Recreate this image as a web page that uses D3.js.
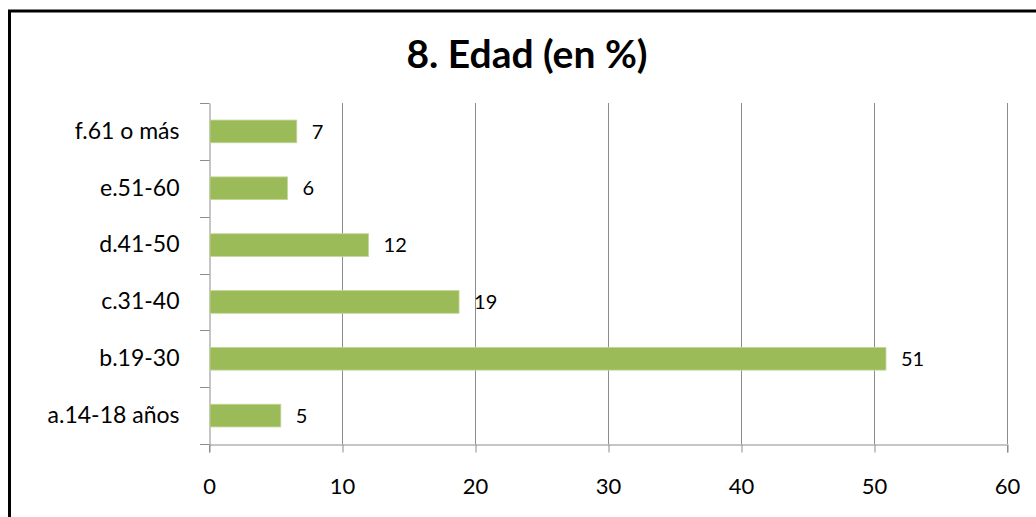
<!DOCTYPE html>
<html><head><meta charset="utf-8">
<script src="https://cdn.jsdelivr.net/npm/d3@7"></script>
<style>body{margin:0;background:#fff;} svg{display:block;}</style>
</head><body>
<svg id="c" width="1036" height="517"></svg>
<script>
const categories = ["f.61 o más","e.51-60","d.41-50","c.31-40","b.19-30","a.14-18 años"];
const values = [6.6, 5.9, 12.0, 18.8, 50.9, 5.4];
const xTicks = [0,10,20,30,40,50,60];
const title = "8. Edad (en %)";

const svg = d3.select("#c");
const font = "Lato, 'Open Sans', sans-serif";
// frame
svg.append("rect").attr("x",9.5).attr("y",11).attr("width",1040).attr("height",520)
  .attr("fill","#fff").attr("stroke","#000").attr("stroke-width",3);

const m = {left:209, right:1007, top:103, bottom:444};
const x = d3.scaleLinear().domain([0,60]).range([m.left,m.right]);
const y = d3.scaleBand().domain(categories).range([m.top,m.bottom]).paddingInner(0.6).paddingOuter(0.3);

// gridlines
svg.append("g").selectAll("line").data(xTicks.slice(1)).join("line")
  .attr("x1",d=>x(d)+0.5).attr("x2",d=>x(d)+0.5).attr("y1",m.top).attr("y2",m.bottom)
  .attr("stroke","#8c8c8c").attr("stroke-width",1);

// x axis
const xa = svg.append("g").attr("transform",`translate(0,${m.bottom+0.5})`)
  .call(d3.axisBottom(x).tickValues(xTicks).tickSize(8).tickPadding(26));
xa.select(".domain").attr("stroke","#8c8c8c");
xa.selectAll(".tick line").attr("stroke","#8c8c8c").attr("transform","translate(0.5,0)");
xa.selectAll("text").attr("font-family",font).attr("font-size",22).attr("fill","#000");

// y axis
const ya = svg.append("g").attr("transform",`translate(${m.left+0.5},0)`)
  .call(d3.axisLeft(y).tickSize(0).tickPadding(30));
ya.select(".domain").attr("stroke","#8c8c8c");
ya.selectAll("text").attr("font-family",font).attr("font-size",23).attr("fill","#000");
// category boundary ticks
const bounds = d3.range(categories.length+1).map(i=>m.top + i*(m.bottom-m.top)/categories.length);
svg.append("g").selectAll("line").data(bounds).join("line")
  .attr("x1",m.left-9).attr("x2",m.left+0.5).attr("y1",d=>Math.round(d)+0.5).attr("y2",d=>Math.round(d)+0.5)
  .attr("stroke","#8c8c8c");

// bars
svg.append("g").selectAll("rect").data(values).join("rect")
  .attr("x",x(0)+1).attr("y",(d,i)=>y(categories[i]))
  .attr("width",d=>x(d)-x(0)-1).attr("height",y.bandwidth())
  .attr("fill","#9bbb59").attr("stroke","#c3d69b").attr("stroke-width",0.8);

// labels
svg.append("g").selectAll("text").data(values).join("text")
  .attr("x",d=>x(d)+15).attr("y",(d,i)=>y(categories[i])+y.bandwidth()/2)
  .attr("dy","0.36em").attr("font-family",font).attr("font-size",20).attr("fill","#000")
  .text(d=>d3.format(".0f")(d));

// title
svg.append("text").attr("x",527).attr("y",68).attr("text-anchor","middle")
  .attr("font-family",font).attr("font-weight","bold").attr("font-size",39).attr("fill","#000")
  .text(title);
</script>
</body></html>
